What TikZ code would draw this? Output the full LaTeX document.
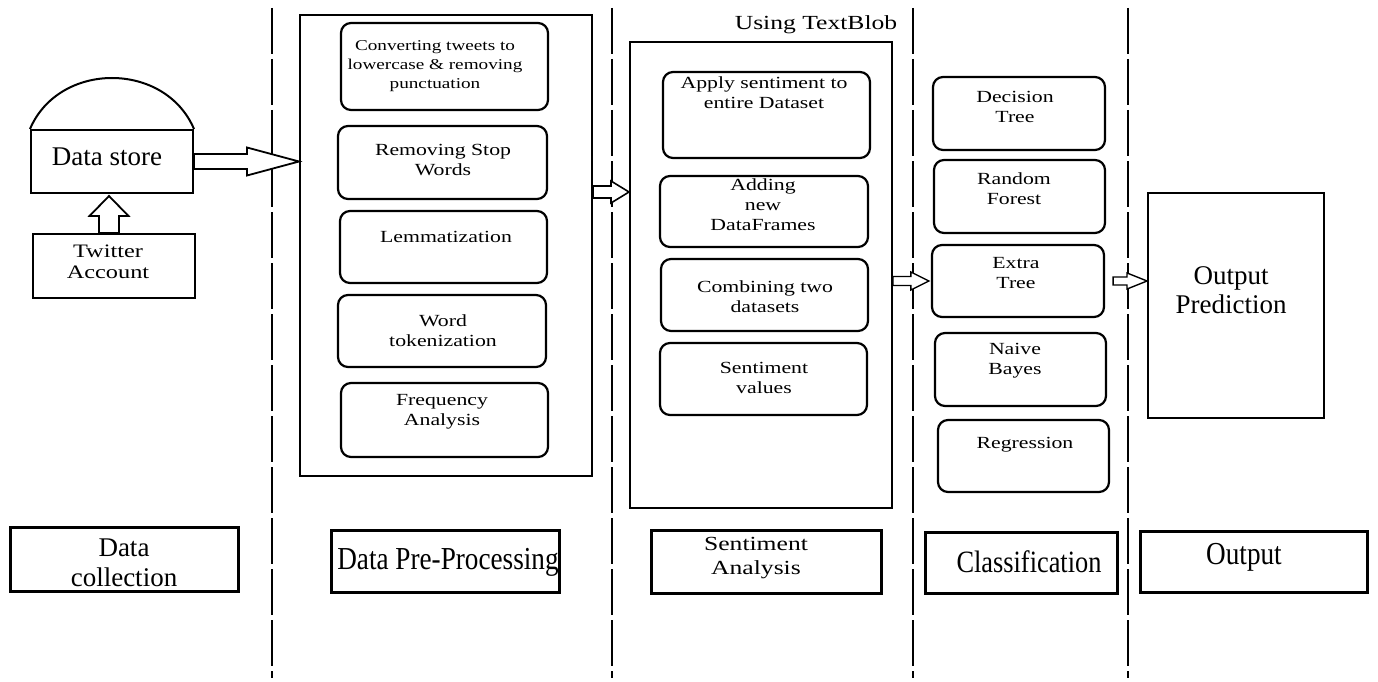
\documentclass[tikz,border=0pt]{standalone}
\usepackage{fontspec}
\setmainfont{Liberation Serif}
\newfontfamily\wfont{Liberation Serif}[FakeStretch=1.28]
\newfontfamily\nfont{Liberation Serif}[FakeStretch=0.85]
\usetikzlibrary{calc}
\newcommand\harr[6][]{%
  \draw[blk,#1] let \p1=(#2), \p2=(#3) in
    (\x1,\y2+#4pt) -- (\x2-#6pt,\y2+#4pt) -- (\x2-#6pt,\y2+#5pt) -- (\x2,\y2)
    -- (\x2-#6pt,\y2-#5pt) -- (\x2-#6pt,\y2-#4pt) -- (\x1,\y2-#4pt) -- cycle;}
\newcommand\varr[6][]{%
  \draw[blk,#1] let \p1=(#2), \p2=(#3) in
    (\x2-#4pt,\y1) -- (\x2-#4pt,\y2-#6pt) -- (\x2-#5pt,\y2-#6pt) -- (\x2,\y2)
    -- (\x2+#5pt,\y2-#6pt) -- (\x2+#4pt,\y2-#6pt) -- (\x2+#4pt,\y1) -- cycle;}
\begin{document}
\begin{tikzpicture}[x=1pt,y=-1pt,
  inbox/.style={draw,line width=2.2pt,rounded corners=10pt,inner sep=0pt},
  outbox/.style={draw,line width=2pt,inner sep=0pt},
  lblbox/.style={draw,line width=3pt,inner sep=0pt},
  sep/.style={line width=2.6pt,dash pattern=on 46pt off 5pt},
  blk/.style={draw,line width=1.8pt,fill=white,line join=miter},
  itxt/.style={inner sep=0pt,align=center,font=\wfont\fontsize{17}{20}\selectfont},
  ltxt/.style={inner sep=0pt,align=center}]
\useasboundingbox[fill=white] (0,0) rectangle (1378,682);

% separators
\foreach \sx in {272,612,913,1128}
  \draw[sep] (\sx,8) -- (\sx,678);

% ---------- Data collection ----------
\node[outbox,minimum width=162pt,minimum height=63pt] (ds) at (112,161.5) {};
\draw[outbox] (ds.north west) .. controls ($(ds.north west)+(29,-68)$) and ($(ds.north east)+(-29,-68)$) .. (ds.north east);
\node[ltxt,font=\fontsize{27}{30}\selectfont] (dst) at (107,157) {Data store};
\node[outbox,minimum width=162pt,minimum height=64pt] (tw) at (114,266) {};
\node[ltxt,font=\wfont\fontsize{19}{21}\selectfont] (twt) at (108,262) {Twitter\\Account};

% ---------- Pre-processing ----------
\node[outbox,minimum width=292pt,minimum height=461pt] (pp) at (446,245.5) {};
\node[inbox,minimum width=207pt,minimum height=87pt] (c1) at (444.5,66.5) {};
\node[inbox,minimum width=209pt,minimum height=73pt] (c2) at (442.5,162.5) {};
\node[inbox,minimum width=207pt,minimum height=72pt] (c3) at (443.5,247) {};
\node[inbox,minimum width=208pt,minimum height=72pt] (c4) at (442,331) {};
\node[inbox,minimum width=207pt,minimum height=74pt] (c5) at (444.5,420) {};
\node[itxt,font=\wfont\fontsize{15}{19}\selectfont] (c1t) at (435,66) {Converting tweets to\\lowercase \& removing\\punctuation};
\node[itxt] (c2t) at (443,160) {Removing Stop\\Words};
\node[itxt] (c3t) at (446,237) {Lemmatization};
\node[itxt] (c4t) at (443,331) {Word\\tokenization};
\node[itxt] (c5t) at (442,412) {Frequency\\Analysis};

% ---------- Sentiment analysis ----------
\node[ltxt,font=\wfont\fontsize{20}{24}\selectfont] (tb) at (816,25) {Using TextBlob};
\node[outbox,minimum width=262pt,minimum height=466pt] (sa) at (761,275) {};
\node[inbox,minimum width=207pt,minimum height=86pt] (s1) at (766.5,115) {};
\node[inbox,minimum width=208pt,minimum height=71pt] (s2) at (764,211.5) {};
\node[inbox,minimum width=207pt,minimum height=72pt] (s3) at (764.5,295) {};
\node[inbox,minimum width=207pt,minimum height=72pt] (s4) at (763.5,379) {};
\node[itxt] (s1t) at (764,93) {Apply sentiment to\\entire Dataset};
\node[itxt] (s2t) at (763,205) {Adding\\new\\DataFrames};
\node[itxt] (s3t) at (765,297) {Combining two\\datasets};
\node[itxt] (s4t) at (764,378) {Sentiment\\values};

% ---------- Classification ----------
\node[inbox,minimum width=172pt,minimum height=73pt] (k1) at (1019,113.5) {};
\node[inbox,minimum width=171pt,minimum height=73pt] (k2) at (1019.5,196.5) {};
\node[inbox,minimum width=172pt,minimum height=72pt] (k3) at (1018,281) {};
\node[inbox,minimum width=171pt,minimum height=73pt] (k4) at (1020.5,369.5) {};
\node[inbox,minimum width=171pt,minimum height=72pt] (k5) at (1023.5,456) {};
\node[itxt] (k1t) at (1015,107) {Decision\\Tree};
\node[itxt] (k2t) at (1014,189) {Random\\Forest};
\node[itxt] (k3t) at (1016,273) {Extra\\Tree};
\node[itxt] (k4t) at (1015,361) {Naive\\Bayes};
\node[itxt] (k5t) at (1025,445) {Regression};

% ---------- Output ----------
\node[outbox,minimum width=176pt,minimum height=225pt] (op) at (1236,305.5) {};
\node[ltxt,font=\fontsize{27}{29}\selectfont] (opt) at (1231,290) {Output\\Prediction};

% ---------- bottom labels ----------
\node[lblbox,minimum width=228pt,minimum height=64pt] (b1) at (124,559) {};
\node[ltxt,font=\fontsize{27}{30}\selectfont] (b1t) at (124,563) {Data\\collection};
\node[lblbox,minimum width=228pt,minimum height=62pt] (b2) at (445,561) {};
\node[ltxt,font=\nfont\fontsize{32}{34}\selectfont] (b2t) at (448,562) {Data Pre-Processing};
\node[lblbox,minimum width=230pt,minimum height=63pt] (b3) at (766,561.5) {};
\node[ltxt,font=\wfont\fontsize{20}{24}\selectfont] (b3t) at (756,558) {Sentiment\\Analysis};
\node[lblbox,minimum width=192pt,minimum height=61pt] (b4) at (1021,562.5) {};
\node[ltxt,font=\nfont\fontsize{31}{33}\selectfont] (b4t) at (1029,562) {Classification};
\node[lblbox,minimum width=227pt,minimum height=61pt] (b5) at (1253.5,561.5) {};
\node[ltxt,font=\nfont\fontsize{32}{34}\selectfont] (b5t) at (1244,557) {Output};

% ---------- block arrows ----------
\coordinate (twa) at ($(tw.north)+(-5,0)$);
\coordinate (dsa) at ($(ds.south)+(-3,2)$);
\varr{twa}{dsa}{10}{19.5}{20}
\harr{ds.east}{pp.west |- ds.east}{7.5}{14}{52}
\coordinate (a2s) at ($(pp.east)+(0,-53.5)$);
\harr[line width=1.6pt]{a2s}{sa.west |- a2s}{6}{11}{18}
\harr[line width=1.4pt]{sa.east |- k3.west}{$(k3.west)+(-2,0)$}{4.5}{9}{18}
\harr[line width=1.4pt]{$(k3.east)+(8,0)$}{op.west |- k3.east}{4}{8}{20}
\end{tikzpicture}
\end{document}
